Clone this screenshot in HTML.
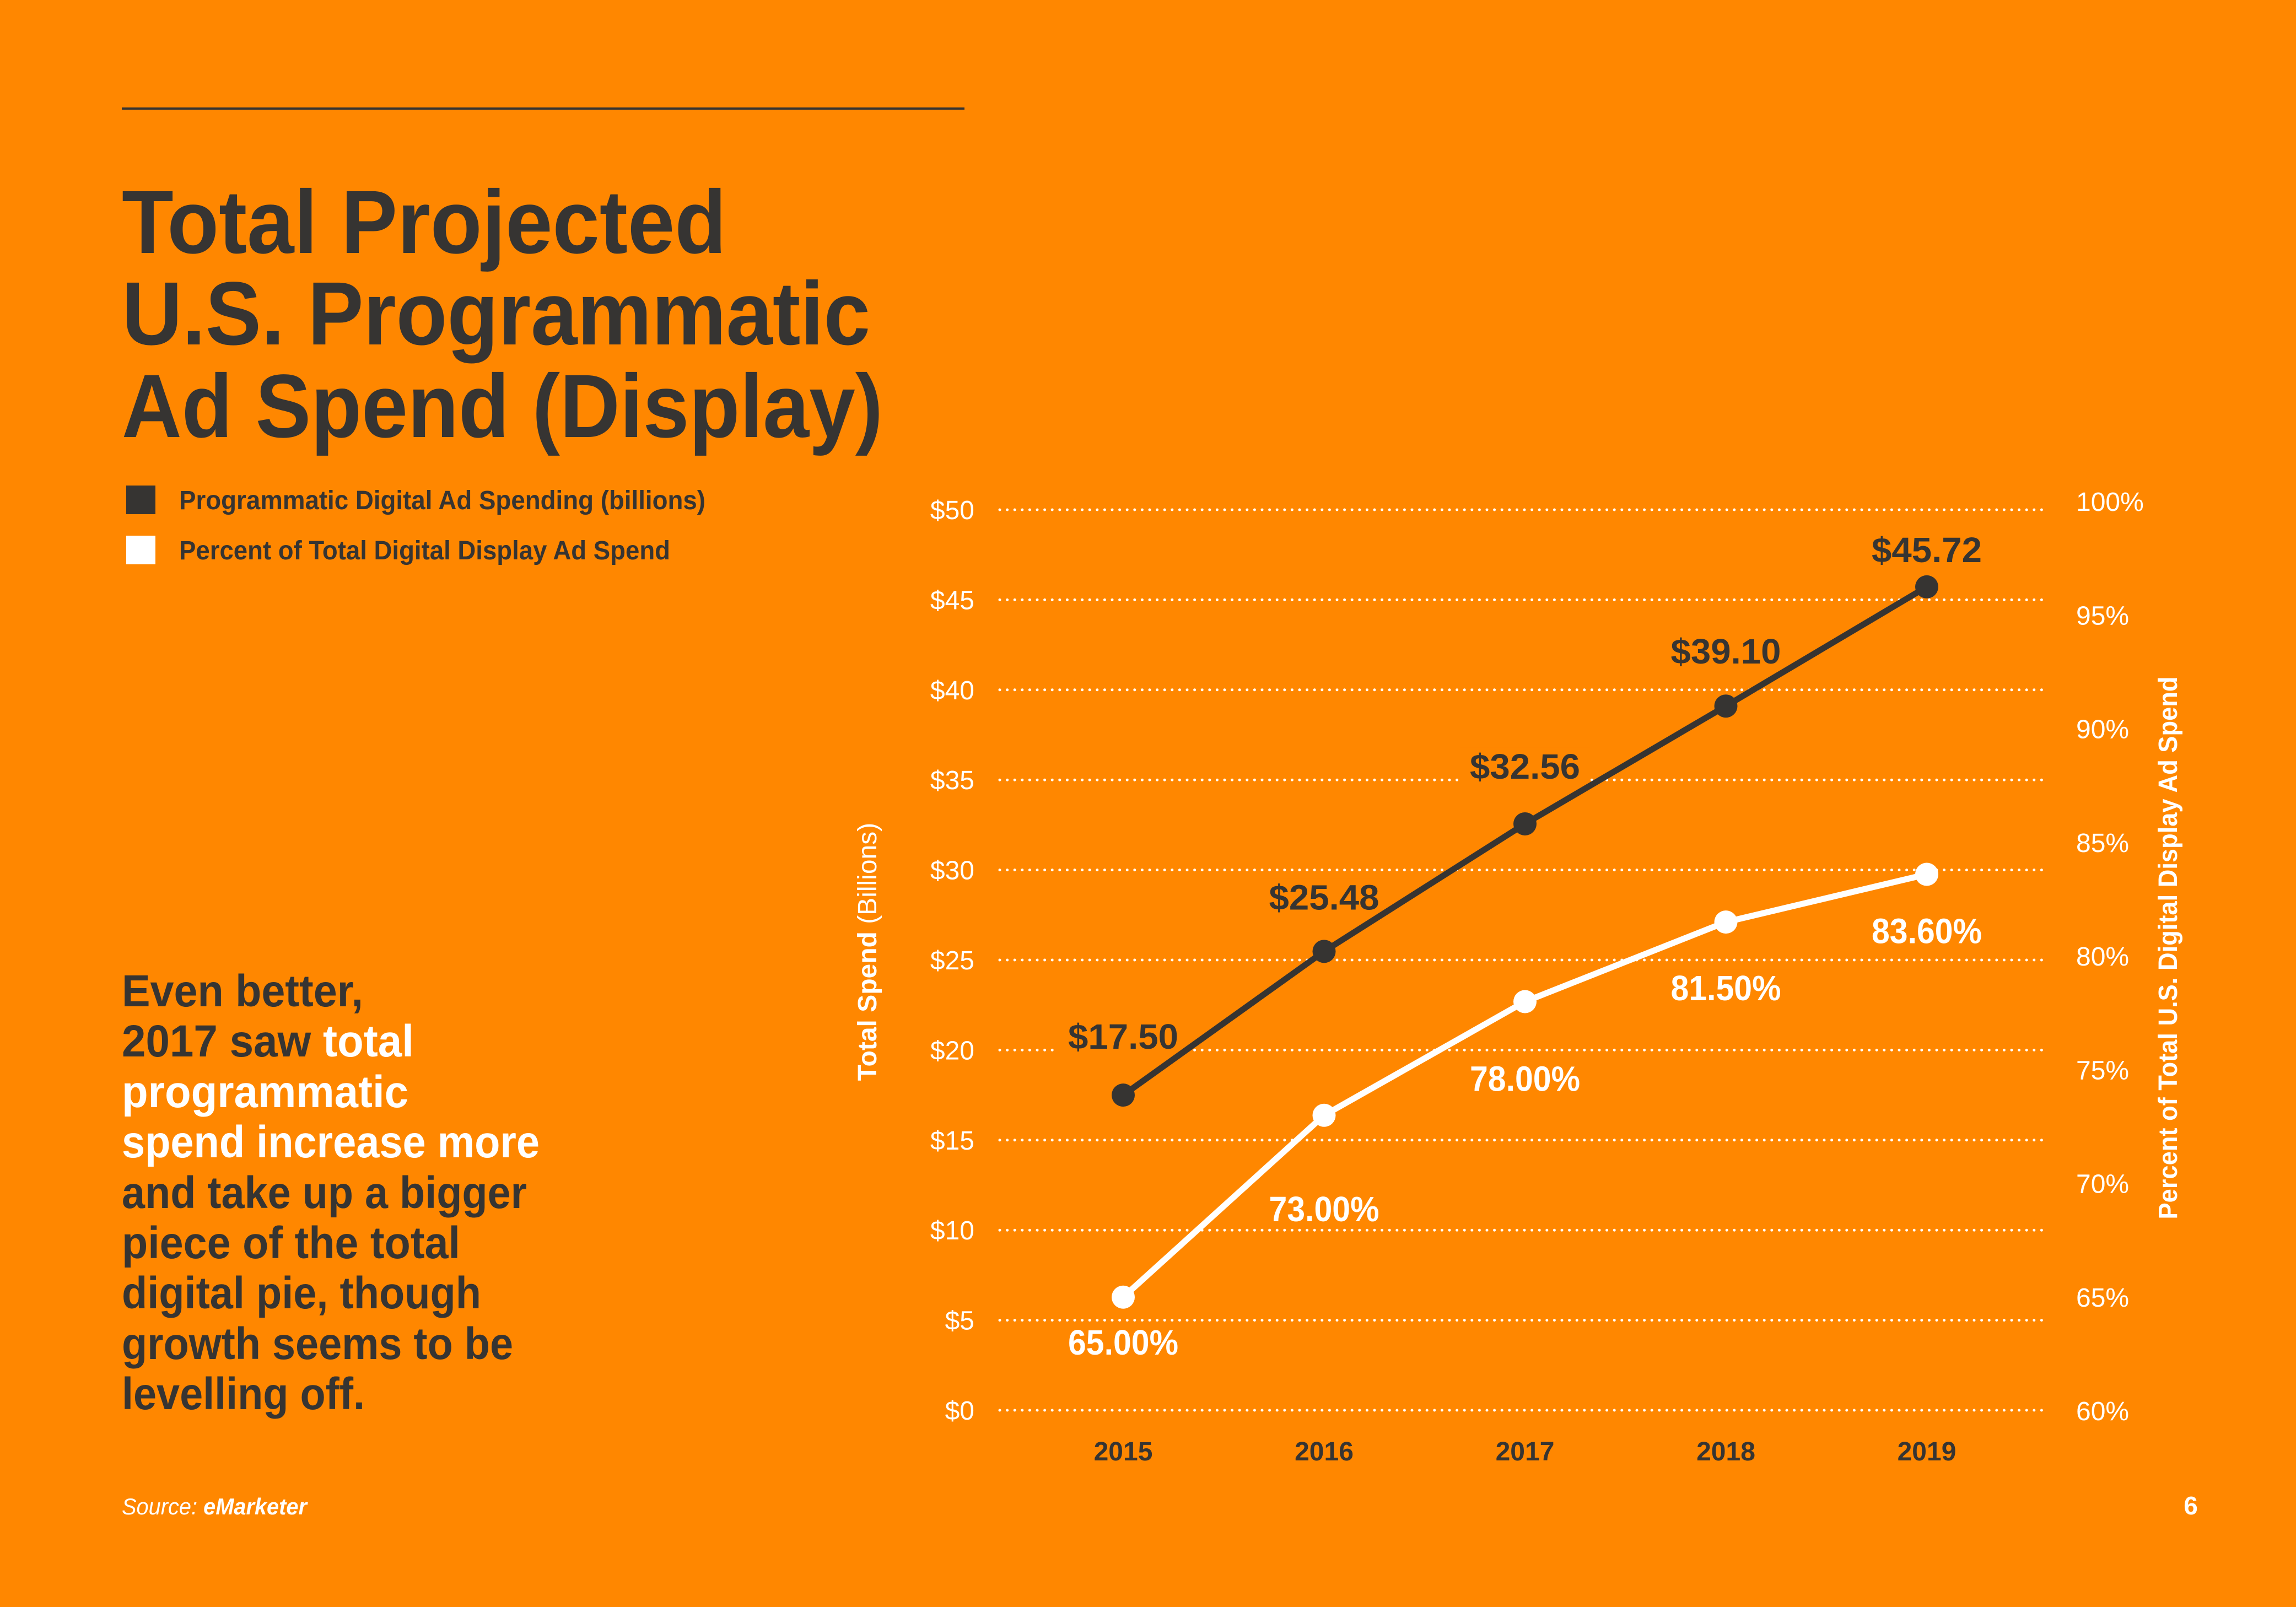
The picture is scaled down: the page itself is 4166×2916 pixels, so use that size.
<!DOCTYPE html>
<html><head><meta charset="utf-8"><style>
html,body{margin:0;padding:0;background:#FF8700;}
svg{display:block;font-family:"Liberation Sans",sans-serif;}
</style></head><body>
<svg id="page" width="4166" height="2916" viewBox="0 0 4166 2916" xmlns="http://www.w3.org/2000/svg">
<rect width="4166" height="2916" fill="#FF8700"/>
<line x1="221" y1="197" x2="1750" y2="197" stroke="#363432" stroke-width="4"/>
<g fill="#363432" font-weight="bold" font-size="163">
<text x="221" y="459" textLength="1097" lengthAdjust="spacingAndGlyphs">Total Projected</text>
<text x="221" y="625" textLength="1358" lengthAdjust="spacingAndGlyphs">U.S. Programmatic</text>
<text x="221" y="793" textLength="1381" lengthAdjust="spacingAndGlyphs">Ad Spend (Display)</text>
</g>
<g>
<rect x="229" y="881" width="53" height="52" fill="#363432"/>
<text x="325" y="924" font-size="48" font-weight="bold" fill="#363432" textLength="955" lengthAdjust="spacingAndGlyphs">Programmatic Digital Ad Spending (billions)</text>
<rect x="229" y="972" width="53" height="52" fill="#FFFFFF"/>
<text x="325" y="1015" font-size="48" font-weight="bold" fill="#363432" textLength="891" lengthAdjust="spacingAndGlyphs">Percent of Total Digital Display Ad Spend</text>
</g>
<g font-size="82" font-weight="bold" fill="#363432">
<text x="221" y="1826" textLength="438" lengthAdjust="spacingAndGlyphs">Even better,</text>
<text x="221" y="1917" textLength="530" lengthAdjust="spacingAndGlyphs">2017 saw <tspan fill="#fff">total</tspan></text>
<text x="221" y="2009" textLength="520" lengthAdjust="spacingAndGlyphs" fill="#fff">programmatic</text>
<text x="221" y="2100" textLength="758" lengthAdjust="spacingAndGlyphs" fill="#fff">spend increase more</text>
<text x="221" y="2192" textLength="735" lengthAdjust="spacingAndGlyphs">and take up a bigger</text>
<text x="221" y="2283" textLength="614" lengthAdjust="spacingAndGlyphs">piece of the total</text>
<text x="221" y="2374" textLength="652" lengthAdjust="spacingAndGlyphs">digital pie, though</text>
<text x="221" y="2466" textLength="710" lengthAdjust="spacingAndGlyphs">growth seems to be</text>
<text x="221" y="2557" textLength="441" lengthAdjust="spacingAndGlyphs">levelling off.</text>
</g>
<text x="221" y="2748" font-size="42" font-style="italic" fill="#fff" textLength="336" lengthAdjust="spacingAndGlyphs">Source: <tspan font-weight="bold">eMarketer</tspan></text>
<text x="3975" y="2748" font-size="46" font-weight="bold" fill="#fff" text-anchor="middle">6</text>
<g id="chart"></g>
</svg>
<script>
const years = ["2015","2016","2017","2018","2019"];
const spend = [17.50, 25.48, 32.56, 39.10, 45.72];
const percent = [65.00, 73.00, 78.00, 81.50, 83.60];
const spendLabels = ["$17.50","$25.48","$32.56","$39.10","$45.72"];
const percentLabels = ["65.00%","73.00%","78.00%","81.50%","83.60%"];
const leftTicks = [0,5,10,15,20,25,30,35,40,45,50];
const rightTicks = [60,65,70,75,80,85,90,95,100];

const NS = "http://www.w3.org/2000/svg";
const g = document.getElementById('chart');
const xs = i => 2038 + i * 364.5;
const yL = v => 2559 - (v / 50) * 1634;
const yR = v => 2560 - ((v - 60) / 40) * 1650;
function mk(tag, attrs, parent) {
  const e = document.createElementNS(NS, tag);
  for (const k in attrs) e.setAttribute(k, attrs[k]);
  (parent || g).appendChild(e);
  return e;
}
leftTicks.forEach(v => {
  const ln = mk('line', {x1: 1814, x2: 3718, y1: yL(v), y2: yL(v), stroke: '#fff', 'stroke-width': 5, 'stroke-linecap': 'round', 'stroke-dasharray': '0 13.6'});
  
  
  const t = mk('text', {x: 1768, y: yL(v) + 17, 'text-anchor': 'end', 'font-size': 48, fill: '#fff'});
  t.textContent = '$' + v;
  
  
});
rightTicks.forEach(v => {
  const t = mk('text', {x: 3767, y: yR(v) + 17, 'font-size': 48, fill: '#fff'});
  t.textContent = v + '%';
  
  
});
years.forEach((y, i) => {
  const t = mk('text', {x: xs(i), y: 2650, 'text-anchor': 'middle', 'font-size': 48, 'font-weight': 'bold', fill: '#363432'});
  t.textContent = y;
  
  
});
const lt = mk('text', {transform: 'translate(1590,1727) rotate(-90)', 'text-anchor': 'middle', 'font-size': 48, fill: '#fff'});
lt.innerHTML = '<tspan font-weight="bold">Total Spend</tspan> (Billions)';


const rt = mk('text', {transform: 'translate(3950,1720) rotate(-90)', 'text-anchor': 'middle', 'font-size': 48, 'font-weight': 'bold', fill: '#fff', textLength: 985, lengthAdjust: 'spacingAndGlyphs'});
rt.textContent = 'Percent of Total U.S. Digital Display Ad Spend';


const darkDy = [-84, -76, -82, -77, -45];
const whiteDy = [104, 192, 162, 142, 125];
function label(txt, x, y, color, name) {
  const bg = mk('rect', {x: x - 118, y: y - 56, width: 236, height: 62, fill: '#FF8700'});
  
  
  const t = mk('text', {x: x, y: y, 'text-anchor': 'middle', 'font-size': 64, 'font-weight': 'bold', fill: color, textLength: 200, lengthAdjust: 'spacingAndGlyphs'});
  t.textContent = txt;
  
  
}
spend.forEach((v, i) => label(spendLabels[i], xs(i), yL(v) + darkDy[i], '#363432', 'spend-label-' + years[i]));
percent.forEach((v, i) => label(percentLabels[i], xs(i), yR(v) + whiteDy[i], '#fff', 'percent-label-' + years[i]));
const spendLine = mk('polyline', {points: spend.map((v, i) => xs(i) + ',' + yL(v)).join(' '), fill: 'none', stroke: '#363432', 'stroke-width': 11, 'stroke-linejoin': 'round'});


const pctLine = mk('polyline', {points: percent.map((v, i) => xs(i) + ',' + yR(v)).join(' '), fill: 'none', stroke: '#fff', 'stroke-width': 11, 'stroke-linejoin': 'round'});


spend.forEach((v, i) => {
  const c = mk('circle', {cx: xs(i), cy: yL(v), r: 21, fill: '#363432'});
  
  
});
percent.forEach((v, i) => {
  const c = mk('circle', {cx: xs(i), cy: yR(v), r: 21, fill: '#fff'});
  
  
});
</script>
</body></html>
